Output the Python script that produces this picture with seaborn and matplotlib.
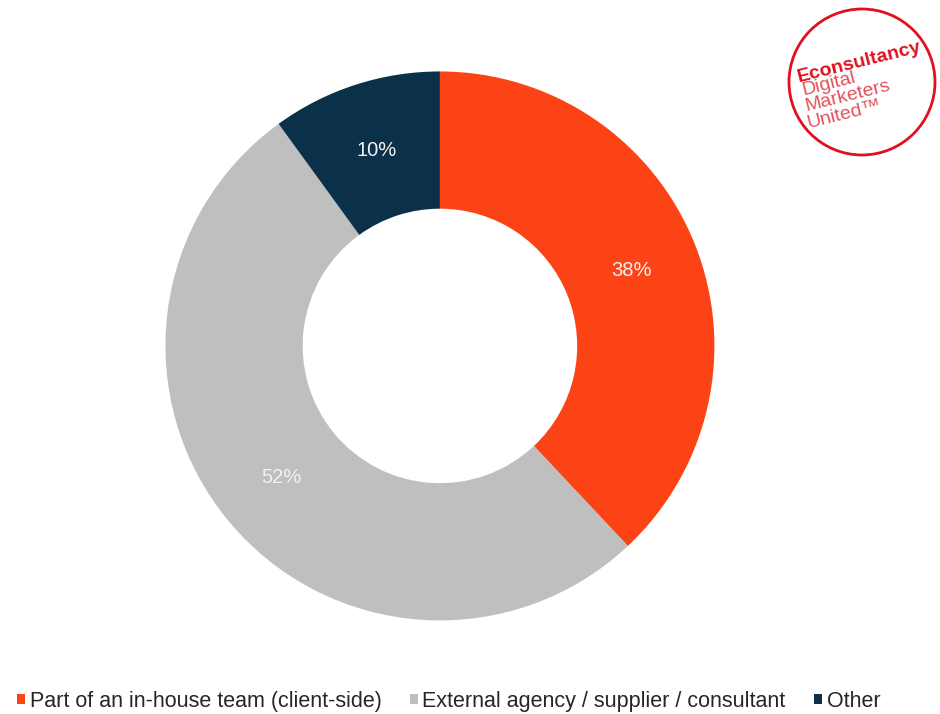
import matplotlib
matplotlib.use("Agg")
import matplotlib.pyplot as plt
import matplotlib.patches as mpatches
import seaborn as sns

# Where respondents' work sits
categories = ["Part of an in-house team (client-side)",
              "External agency / supplier / consultant",
              "Other"]
shares = [38, 52, 10]
value_labels = ["38%", "52%", "10%"]
colors = ["#FC4316", "#BFBFBF", "#0B3049"]

sns.set_theme(style="white")
plt.rcParams["font.family"] = ["Liberation Sans", "DejaVu Sans"]

fig = plt.figure(figsize=(9.4, 7.14), dpi=100)
fig.patch.set_facecolor("white")

# Donut, centred on the left part of the canvas
ax = fig.add_axes([0.176, 0.131, 0.584, 0.769])
wedges, texts, autotexts = ax.pie(
    shares,
    colors=colors,
    startangle=90,
    counterclock=False,
    radius=1.0,
    wedgeprops=dict(width=0.5, edgecolor="none"),
    autopct="%1.0f%%",
    pctdistance=0.75,
    textprops=dict(color="#F2F2F2", fontsize=14.5),
)
for t, lbl in zip(autotexts, value_labels):
    t.set_text(lbl)
ax.set_xlim(-1, 1)
ax.set_ylim(-1, 1)
ax.set_aspect("equal")
ax.axis("off")

# Legend along the bottom edge
handles = [mpatches.Patch(facecolor=c, edgecolor="none", label=l)
           for c, l in zip(colors, categories)]
fig.legend(handles=handles, loc="center left", bbox_to_anchor=(0.011, 0.018),
           ncol=3, frameon=False, fontsize=15.5, handlelength=0.4,
           handleheight=0.4, handletextpad=0.2, columnspacing=1.3,
           borderaxespad=0, borderpad=0.3, labelcolor="#262626")

# Brand badge in the top-right corner
red = "#E0101E"
badge = fig.add_axes([0, 0, 1, 1], facecolor="none")
badge.set_xlim(0, 940)
badge.set_ylim(714, 0)
badge.axis("off")
badge.add_patch(mpatches.Circle((862, 82), 73, fill=False, edgecolor=red, lw=2))
rot = 14
badge.text(799, 82, "Econsultancy", color=red, fontsize=14, fontweight="bold",
           rotation=rot, rotation_mode="anchor", ha="left", va="baseline")
for (x, y, s) in [(803, 95, "Digital"), (806, 111, "Marketers"),
                  (809, 128, "United\u2122")]:
    badge.text(x, y, s, color="#E5505A", fontsize=14,
               rotation=rot, rotation_mode="anchor", ha="left", va="baseline")

fig.savefig("out.png", dpi=100, facecolor="white")
